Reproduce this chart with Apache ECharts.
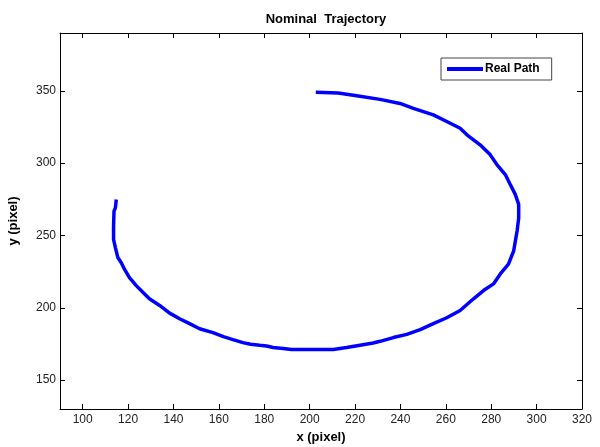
<!DOCTYPE html>
<html>
<head>
<meta charset="utf-8">
<script src="https://cdn.jsdelivr.net/npm/echarts@6/dist/echarts.min.js"></script>
<style>
  html, body { margin: 0; padding: 0; background: #fff; }
  #main { width: 600px; height: 447px; }
</style>
</head>
<body>
<div id="main"></div>
<script>
// path points
var pathX = [114.8, 114.4, 113.8, 113.6, 113.6, 114.4, 115.5, 117.0, 118.4, 120.6,
    123.6, 126.5, 129.4, 133.9, 138.3, 142.7, 147.1, 151.5, 157.4, 162.0,
    166.2, 170.6, 174.0, 178.0, 181.0, 183.9, 188.3, 192.0, 200.0, 210.4,
    216.3, 222.2, 228.0, 231.0, 236.9, 242.8, 248.7, 254.5, 260.4, 266.3,
    272.2, 276.6, 281.0, 284.0, 287.6, 289.9, 291.4, 292.1, 292.1, 290.6,
    288.4, 286.2, 282.5, 279.5, 275.1, 269.3, 266.3, 260.4, 254.5, 245.7,
    239.8, 231.0, 220.7, 212.6, 202.7];
var pathY = [274.9, 269.1, 266.8, 256.0, 247.3, 241.6, 234.7, 231.2, 226.7, 220.9,
    215.3, 210.7, 206.2, 201.6, 196.3, 192.4, 189.0, 185.5, 182.8, 180.0,
    178.0, 175.9, 174.8, 174.1, 173.6, 172.5, 171.8, 171.1, 171.1, 171.1,
    172.5, 174.1, 175.6, 176.8, 179.4, 181.6, 184.9, 189.0, 193.1, 198.1,
    206.2, 211.9, 216.5, 223.4, 230.2, 239.4, 253.1, 262.0, 271.5, 278.4,
    285.2, 292.1, 299.0, 305.9, 312.7, 319.6, 324.1, 328.8, 333.4, 337.9,
    341.3, 344.1, 346.6, 348.5, 349.0];

// tick labels
var xTicks = [100, 120, 140, 160, 180, 200, 220, 240, 260, 280, 300, 320];
var yTicks = [150, 200, 250, 300, 350];

var seriesName = 'Real Path';

(function () {
    var myChart = echarts.init(document.getElementById('main'));

    var pts = [];
    for (var i = 0; i < pathX.length; i++) {
        pts.push([pathX[i], pathY[i]]);
    }

    var font = 'Liberation Sans, Arial, sans-serif';
    var lineAxis = { lineStyle: { color: '#000', width: 1 } };

    function tick(vals) {
        return { show: true, inside: true, length: 5, customValues: vals, lineStyle: { color: '#000' } };
    }
    function label(vals, margin) {
        return { show: true, customValues: vals, fontFamily: font, fontSize: 12, color: '#222', margin: margin };
    }

    var option = {
        animation: false,
        backgroundColor: '#fff',
        title: {
            text: 'Nominal  Trajectory',
            left: 321,
            textAlign: 'center',
            top: 8,
            textStyle: { fontFamily: font, fontSize: 13, fontWeight: 'bold', color: '#000' }
        },
        legend: {
            data: [{ name: seriesName, icon: 'rect' }],
            left: 441,
            top: 58,
            borderColor: '#444',
            borderWidth: 1,
            borderRadius: 0,
            padding: [5, 12, 5, 6],
            itemWidth: 36,
            itemHeight: 4,
            backgroundColor: '#fff',
            textStyle: { fontFamily: font, fontSize: 12, fontWeight: 'bold', color: '#000', padding: [0, 0, 0, -3] }
        },
        grid: { left: 60, right: 18, top: 33, bottom: 38, containLabel: false, outerBoundsMode: 'none' },
        xAxis: [{
            type: 'value',
            min: 90, max: 320,
            name: 'x (pixel)',
            nameLocation: 'middle',
            nameGap: 22,
            nameTextStyle: { fontFamily: font, fontSize: 13, fontWeight: 'bold', color: '#000' },
            axisLine: lineAxis,
            axisTick: tick(xTicks),
            axisLabel: label(xTicks, 5),
            splitLine: { show: false }
        }, {
            type: 'value',
            position: 'top',
            min: 90, max: 320,
            axisLine: lineAxis,
            axisTick: tick(xTicks),
            axisLabel: { show: false },
            splitLine: { show: false }
        }],
        yAxis: [{
            type: 'value',
            min: 130, max: 390,
            name: 'y (pixel)',
            nameLocation: 'middle',
            nameGap: 40,
            nameTextStyle: { fontFamily: font, fontSize: 13, fontWeight: 'bold', color: '#000' },
            axisLine: lineAxis,
            axisTick: tick(yTicks),
            axisLabel: label(yTicks, 4),
            splitLine: { show: false }
        }, {
            type: 'value',
            position: 'right',
            min: 130, max: 390,
            axisLine: lineAxis,
            axisTick: tick(yTicks),
            axisLabel: { show: false },
            splitLine: { show: false }
        }],
        series: [{
            name: seriesName,
            type: 'line',
            data: pts,
            showSymbol: false,
            symbol: 'none',
            lineStyle: { color: '#0000ff', width: 3.5 },
            itemStyle: { color: '#0000ff' }
        }]
    };
    myChart.setOption(option);
})();
</script>
</body>
</html>
